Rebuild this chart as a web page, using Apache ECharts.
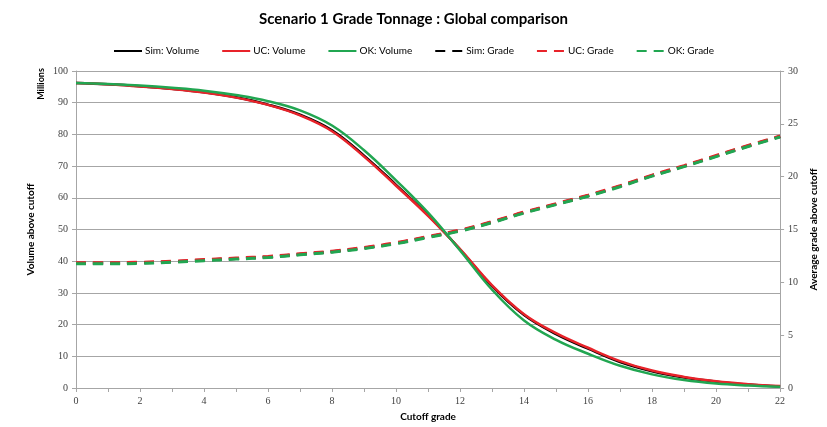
<!DOCTYPE html>
<html>
<head>
<meta charset="utf-8">
<script src="https://cdn.jsdelivr.net/npm/echarts@6/dist/echarts.min.js"></script>
<style>
  html, body { margin: 0; padding: 0; background: #fff; }
  #chart { width: 827px; height: 427px; }
</style>
</head>
<body>
<div id="chart"></div>
<script>
// Cutoff grades (x)
const cutoff = [0,1,2,3,4,5,6,7,8,9,10,11,12,13,14,15,16,17,18,19,20,21,22];

// Volume above cutoff (millions)
const simVolume = [96.2,95.8,95.2,94.4,93.3,91.7,89.4,86.2,81.3,73.3,64.1,54.5,43.7,32.1,23.0,17.0,12.4,8.2,5.3,3.3,2.0,1.1,0.5];
const ucVolume  = [96.2,95.8,95.1,94.3,93.2,91.6,89.3,86.0,81.0,73.0,63.8,54.3,43.8,32.4,23.3,17.3,12.7,8.5,5.5,3.5,2.1,1.2,0.6];
const okVolume  = [96.2,95.9,95.4,94.7,93.8,92.4,90.5,87.6,82.8,75.0,65.5,55.3,43.4,31.0,21.3,15.2,10.8,7.0,4.3,2.5,1.4,0.8,0.4];

// Average grade above cutoff
const simGrade = [11.8,11.8,11.85,11.95,12.1,12.25,12.4,12.65,12.9,13.25,13.7,14.3,14.9,15.7,16.6,17.4,18.2,19.1,20.1,21.0,21.95,22.9,23.8];
const ucGrade  = [11.85,11.85,11.9,12.0,12.15,12.3,12.45,12.7,12.95,13.3,13.75,14.35,14.95,15.75,16.65,17.45,18.25,19.15,20.15,21.05,22.0,22.95,23.85];
const okGrade  = [11.75,11.75,11.8,11.9,12.05,12.2,12.35,12.6,12.85,13.2,13.65,14.25,14.85,15.65,16.55,17.35,18.15,19.05,20.05,20.95,21.9,22.85,23.75];

const BLACK = '#000000', RED = '#e8232a', GREEN = '#21a651';
const FONT = 'Lato';
const NUMFONT = 'Liberation Serif';

const pairs = arr => arr.map((v, i) => [cutoff[i], v]);

function volSeries(name, data, color) {
  return {
    name, type: 'line', yAxisIndex: 0, data: pairs(data), smooth: 0.4,
    symbol: 'none', lineStyle: { color, width: 2.5 }, itemStyle: { color }, z: 3
  };
}
function gradeSeries(name, data, color) {
  return {
    name, type: 'line', yAxisIndex: 1, data: pairs(data), smooth: 0.4,
    symbol: 'none', lineStyle: { color, width: 3, type: [10, 7] }, itemStyle: { color }, z: 4
  };
}

const chart = echarts.init(document.getElementById('chart'), null, { renderer: 'canvas' });
chart.setOption({
  animation: false,
  backgroundColor: '#ffffff',
  title: {
    text: 'Scenario 1 Grade Tonnage : Global comparison',
    left: 'center', top: 7,
    textStyle: { fontFamily: FONT, fontWeight: 'bold', fontSize: 15, color: '#000' }
  },
  legend: {
    top: 41, left: 'center',
    itemWidth: 28, itemHeight: 8, itemGap: 22,
    itemStyle: { opacity: 0 },
    textStyle: { fontFamily: FONT, fontSize: 10, color: '#000', padding: [0, 0, 0, -2] },
    data: ['Sim: Volume', 'UC: Volume', 'OK: Volume', 'Sim: Grade', 'UC: Grade', 'OK: Grade']
  },
  grid: { left: 76, right: 40, top: 71, bottom: 38 },
  xAxis: {
    type: 'value', min: 0, max: 22, interval: 1,
    name: 'Cutoff grade', nameLocation: 'middle', nameGap: 24,
    nameTextStyle: { fontFamily: FONT, fontWeight: 'bold', fontSize: 10, color: '#000' },
    axisLine: { show: true, lineStyle: { color: '#a6a6a6', width: 1 } },
    axisTick: { show: true, length: 4, lineStyle: { color: '#a6a6a6' } },
    axisLabel: {
      fontFamily: NUMFONT, fontSize: 10, color: '#404040', margin: 8,
      formatter: v => (v % 2 === 0 ? String(v) : '')
    },
    splitLine: { show: false }
  },
  yAxis: [
    {
      type: 'value', min: 0, max: 100, interval: 10,
      name: 'Volume above cutoff', nameLocation: 'middle', nameGap: 40, nameRotate: 90,
      nameTextStyle: { fontFamily: FONT, fontWeight: 'bold', fontSize: 10, color: '#000' },
      axisLine: { show: true, lineStyle: { color: '#a6a6a6', width: 1 } },
      axisTick: { show: true, length: 4, lineStyle: { color: '#a6a6a6' } },
      axisLabel: { fontFamily: NUMFONT, fontSize: 10, color: '#404040', margin: 8 },
      splitLine: { show: true, lineStyle: { color: '#a6a6a6', width: 1 } }
    },
    {
      type: 'value', min: 0, max: 30, interval: 5, position: 'right',
      name: 'Average grade above cutoff', nameLocation: 'middle', nameGap: 26, nameRotate: 90,
      nameTextStyle: { fontFamily: FONT, fontWeight: 'bold', fontSize: 10, color: '#000' },
      axisLine: { show: true, lineStyle: { color: '#a6a6a6', width: 1 } },
      axisTick: { show: true, length: 4, lineStyle: { color: '#a6a6a6' } },
      axisLabel: { fontFamily: NUMFONT, fontSize: 10, color: '#404040', margin: 8 },
      splitLine: { show: false }
    }
  ],
  graphic: [{
    type: 'text', x: 41, y: 84, rotation: Math.PI / 2,
    style: { text: 'Millions', fontFamily: FONT, fontWeight: 'bold', fontSize: 9, fill: '#000',
             align: 'center', verticalAlign: 'middle' }
  }],
  series: [
    volSeries('Sim: Volume', simVolume, BLACK),
    volSeries('UC: Volume', ucVolume, RED),
    volSeries('OK: Volume', okVolume, GREEN),
    gradeSeries('Sim: Grade', simGrade, BLACK),
    gradeSeries('UC: Grade', ucGrade, RED),
    gradeSeries('OK: Grade', okGrade, GREEN)
  ]
});
</script>
</body>
</html>
